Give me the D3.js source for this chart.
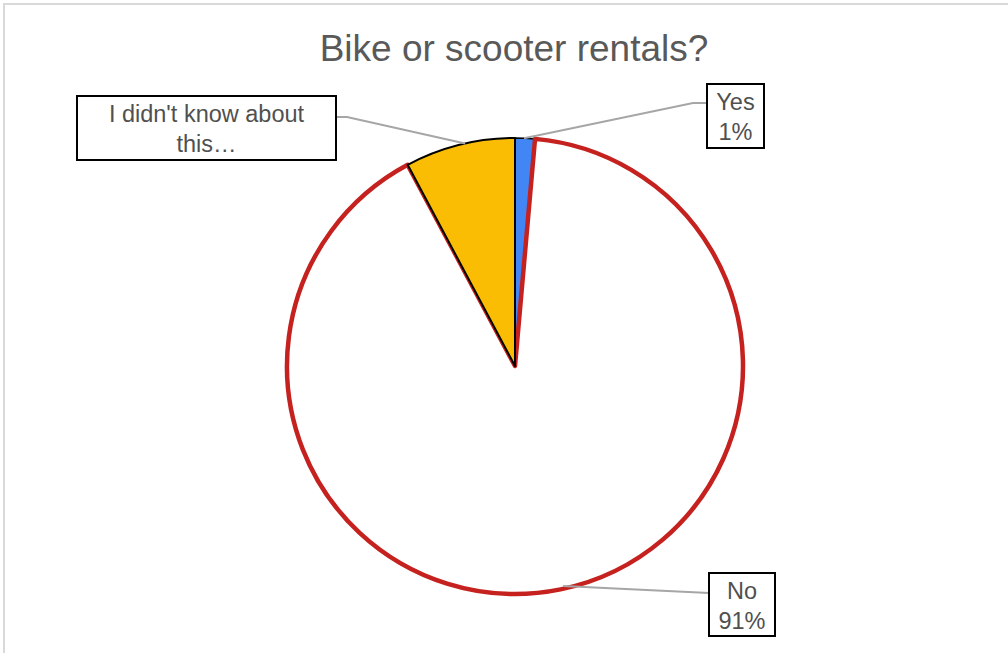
<!DOCTYPE html>
<html><head><meta charset="utf-8">
<script src="https://cdn.jsdelivr.net/npm/d3@7"></script>
<style>body{margin:0;background:#fff;}svg{display:block;font-family:"Liberation Sans",Arial,sans-serif;}</style>
</head><body>
<svg id="c" width="1008" height="653"></svg>
<script>
const categories = ["Yes", "No", "I didn't know about this…"];
const values = [1.4, 90.8, 7.8];
const percentLabels = ["1%", "91%", "8%"];
const fills = ["#4285f4", "#ffffff", "#fbbc04"];
const strokes = ["#000000", "#c5221f", "#000000"];
const strokeWidths = [1.5, 4.5, 2];

const svg = d3.select("#c");
svg.append("rect").attr("x",4).attr("y",4).attr("width",1010).attr("height",660)
  .attr("fill","#fff").attr("stroke","#d9d9d9").attr("stroke-width",2);

svg.append("text").attr("x",514).attr("y",61).attr("text-anchor","middle")
  .attr("font-size",37).attr("fill","#595959").text("Bike or scooter rentals?");

const cx = 515, cy = 366, r = 228;
const pie = d3.pie().sort(null).value(d=>d)(values);
const arc = d3.arc().innerRadius(0).outerRadius(r);
const g = svg.append("g").attr("transform",`translate(${cx},${cy})`);
const order = [0,1,2];
order.forEach(i=>{
  g.append("path").attr("d",arc(pie[i])).attr("fill",fills[i])
    .attr("stroke",strokes[i]).attr("stroke-width",strokeWidths[i]).attr("stroke-linejoin","round");
});

// labels
const labelBoxes = [
  {x:707,y:84,w:57,h:64, lines:[categories[0],percentLabels[0]], leader:[[707,103],[693,103]], frac:0.45},
  {x:709,y:573,w:66,h:63, lines:[categories[1],percentLabels[1]], leader:[[709,593]], frac:null, pt:[563,586]},
  {x:77,y:96,w:259,h:64, lines:["I didn't know about","this…"], leader:[[336,117],[347,117]], frac:0.55}
];
labelBoxes.forEach((b,i)=>{
  let p;
  if (b.pt) p = b.pt;
  else {
    const a = pie[i].startAngle + (pie[i].endAngle - pie[i].startAngle)*b.frac;
    p = [cx + r*Math.sin(a), cy - r*Math.cos(a)];
  }
  const pts = b.leader.concat([p]);
  svg.append("path").attr("d", d3.line()(pts)).attr("fill","none")
    .attr("stroke","#a6a6a6").attr("stroke-width",2);
  svg.append("rect").attr("x",b.x).attr("y",b.y).attr("width",b.w).attr("height",b.h)
    .attr("fill","#fff").attr("stroke","#000").attr("stroke-width",2);
  b.lines.forEach((t,j)=>{
    svg.append("text").attr("x",b.x+b.w/2).attr("y",b.y+26+j*30).attr("text-anchor","middle")
      .attr("font-size",23.5).attr("fill","#505050").text(t);
  });
});
</script>
</body></html>
